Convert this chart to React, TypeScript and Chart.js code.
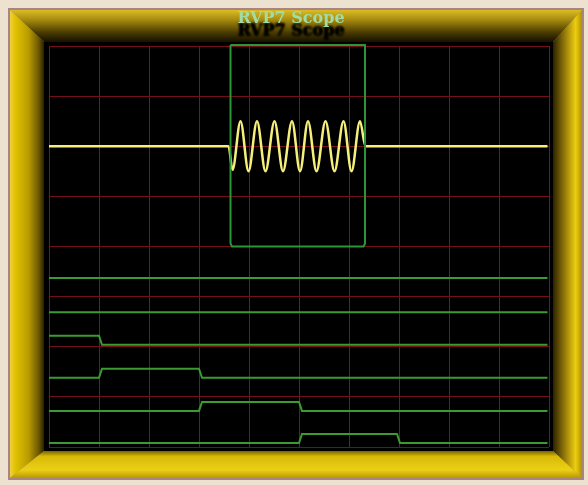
import React, { useEffect, useRef } from "react";
import { Chart, registerables } from "chart.js";

Chart.register(...registerables);

const TITLE = "RVP7 Scope";

// grid: 10 horizontal divisions, 8 vertical divisions
const X_MIN = 0;
const X_MAX = 10;
const Y_MIN = 0;
const Y_MAX = 8;

// yellow analogue trace (burst of sine between flat parts)
const yellowX = [0, 3.59, 3.67, 3.83, 3.99, 4.16, 4.33, 4.51, 4.68, 4.86, 5.02, 5.18, 5.35, 5.53, 5.71, 5.89, 6.05, 6.22, 6.33, 9.97];
const yellowY = [6.0, 6.0, 5.53, 6.5, 5.5, 6.5, 5.5, 6.5, 5.5, 6.5, 5.5, 6.5, 5.5, 6.5, 5.5, 6.5, 5.5, 6.5, 6.0, 6.0];

// green gate box
const boxX = [3.63, 3.63, 3.66, 6.29, 6.32, 6.32, 3.63];
const boxY = [8.02, 4.06, 4.0, 4.0, 4.06, 8.02, 8.02];

// digital traces
const d1X = [0, 9.97];
const d1Y = [3.37, 3.37];
const d2X = [0, 9.97];
const d2Y = [2.69, 2.69];
const d3X = [0, 1.0, 1.06, 9.97];
const d3Y = [2.22, 2.22, 2.04, 2.04];
const d4X = [0, 1.0, 1.06, 3.0, 3.06, 9.97];
const d4Y = [1.38, 1.38, 1.56, 1.56, 1.38, 1.38];
const d5X = [0, 3.0, 3.06, 5.0, 5.06, 9.97];
const d5Y = [0.72, 0.72, 0.9, 0.9, 0.72, 0.72];
const d6X = [0, 5.0, 5.06, 6.96, 7.02, 9.97];
const d6Y = [0.08, 0.08, 0.26, 0.26, 0.08, 0.08];

const pts = (xs: number[], ys: number[]) => xs.map((x, i) => ({ x, y: ys[i] }));

const bezelPlugin = {
  id: "bezel",
  beforeDraw(chart: any) {
    const ctx: CanvasRenderingContext2D = chart.ctx;
    const W = chart.width;
    const H = chart.height;
    ctx.save();
    ctx.fillStyle = "#ece2cf";
    ctx.fillRect(0, 0, W, H);
    ctx.fillStyle = "#a88482";
    ctx.fillRect(8, 8, 576, 472);
    const o = { l: 10, t: 10, r: 582, b: 478 };
    const i = { l: 44, t: 42, r: 553, b: 451 };
    const poly = (p: number[][], fill: any) => {
      ctx.beginPath();
      ctx.moveTo(p[0][0], p[0][1]);
      for (let k = 1; k < p.length; k++) ctx.lineTo(p[k][0], p[k][1]);
      ctx.closePath();
      ctx.fillStyle = fill;
      ctx.fill();
    };
    const grad = (x0: number, y0: number, x1: number, y1: number, stops: [number, string][]) => {
      const g = ctx.createLinearGradient(x0, y0, x1, y1);
      stops.forEach(([s, c]) => g.addColorStop(s, c));
      return g;
    };
    // top
    poly(
      [[o.l, o.t], [o.r, o.t], [i.r, i.t], [i.l, i.t]],
      grad(0, o.t, 0, i.t, [[0, "#dcbc22"], [0.3, "#a88c10"], [0.7, "#4a3c00"], [1, "#151000"]])
    );
    // left
    poly(
      [[o.l, o.t], [i.l, i.t], [i.l, i.b], [o.l, o.b]],
      grad(o.l, 0, i.l, 0, [[0, "#ecd040"], [0.15, "#e2c200"], [0.55, "#b89a00"], [0.85, "#6a5600"], [1, "#282000"]])
    );
    // right
    poly(
      [[o.r, o.t], [o.r, o.b], [i.r, i.b], [i.r, i.t]],
      grad(i.r, 0, o.r, 0, [[0, "#2a2200"], [0.4, "#94780a"], [0.78, "#ecce10"], [1, "#b09000"]])
    );
    // bottom
    poly(
      [[i.l, i.b], [i.r, i.b], [o.r, o.b], [o.l, o.b]],
      grad(0, i.b, 0, o.b, [[0, "#7a6400"], [0.2, "#d8ba08"], [0.7, "#ecd016"], [1, "#b89800"]])
    );
    // screen
    ctx.fillStyle = "#000000";
    ctx.fillRect(i.l, i.t, i.r - i.l, i.b - i.t);
    // title shadow
    ctx.filter = "blur(1.2px)";
    ctx.font = 'bold 16px "DejaVu Serif"';
    ctx.textAlign = "center";
    ctx.textBaseline = "middle";
    ctx.fillStyle = "rgba(0,0,0,1)";
    ctx.fillText(TITLE, 291, 31);
    ctx.fillText(TITLE, 291, 32);
    ctx.restore();
  },
  afterLayout(chart: any) {
    if (chart.titleBlock) {
      chart.titleBlock.left = 0;
      chart.titleBlock.right = 582;
    }
  },
};

export default function App() {
  const ref = useRef<HTMLCanvasElement | null>(null);
  useEffect(() => {
    document.body.style.margin = "0";
    if (!ref.current) return;
    const green = "#3a9c30";
    const boxGreen = "#2c9636";
    const gridRed = "#74101c";
    const gridRedV = "#8a0c1e";
    const digital = (xs: number[], ys: number[]) => ({
      data: pts(xs, ys),
      showLine: true,
      borderColor: green,
      borderWidth: 2,
      pointRadius: 0,
      tension: 0,
      clip: false as any,
    });
    const chart = new Chart(ref.current, {
      type: "scatter",
      data: {
        datasets: [
          {
            data: pts(boxX, boxY),
            showLine: true,
            borderColor: boxGreen,
            borderWidth: 2,
            pointRadius: 0,
            tension: 0,
            clip: false as any,
          },
          {
            data: pts(yellowX, yellowY),
            showLine: true,
            borderColor: "#f6f07a",
            borderWidth: 2.5,
            pointRadius: 0,
            cubicInterpolationMode: "monotone",
            clip: false as any,
          },
          digital(d1X, d1Y),
          digital(d2X, d2Y),
          digital(d3X, d3Y),
          digital(d4X, d4Y),
          digital(d5X, d5Y),
          digital(d6X, d6Y),
        ],
      },
      options: {
        animation: false,
        responsive: false,
        devicePixelRatio: 1,
        layout: { padding: { left: 49, right: 39, top: 0, bottom: 38 } },
        plugins: {
          legend: { display: false },
          tooltip: { enabled: false },
          title: {
            display: true,
            text: TITLE,
            color: "#a0dca6",
            font: { family: '"DejaVu Serif"', size: 16, weight: "bold" },
            padding: { top: 9, bottom: 17.8 },
          },
        },
        scales: {
          x: {
            type: "linear",
            min: X_MIN,
            max: X_MAX,
            ticks: { display: false, stepSize: 1 },
            grid: { color: gridRedV, lineWidth: 1, drawTicks: false },
            border: { display: false },
          },
          y: {
            type: "linear",
            min: Y_MIN,
            max: Y_MAX,
            ticks: { display: false, stepSize: 1 },
            grid: { color: gridRed, lineWidth: 1, drawTicks: false },
            border: { display: false },
          },
        },
      },
      plugins: [bezelPlugin],
    });
    return () => chart.destroy();
  }, []);
  return (
    <div style={{ width: 588, height: 485 }}>
      <canvas ref={ref} width={588} height={485} style={{ display: "block" }} />
    </div>
  );
}
